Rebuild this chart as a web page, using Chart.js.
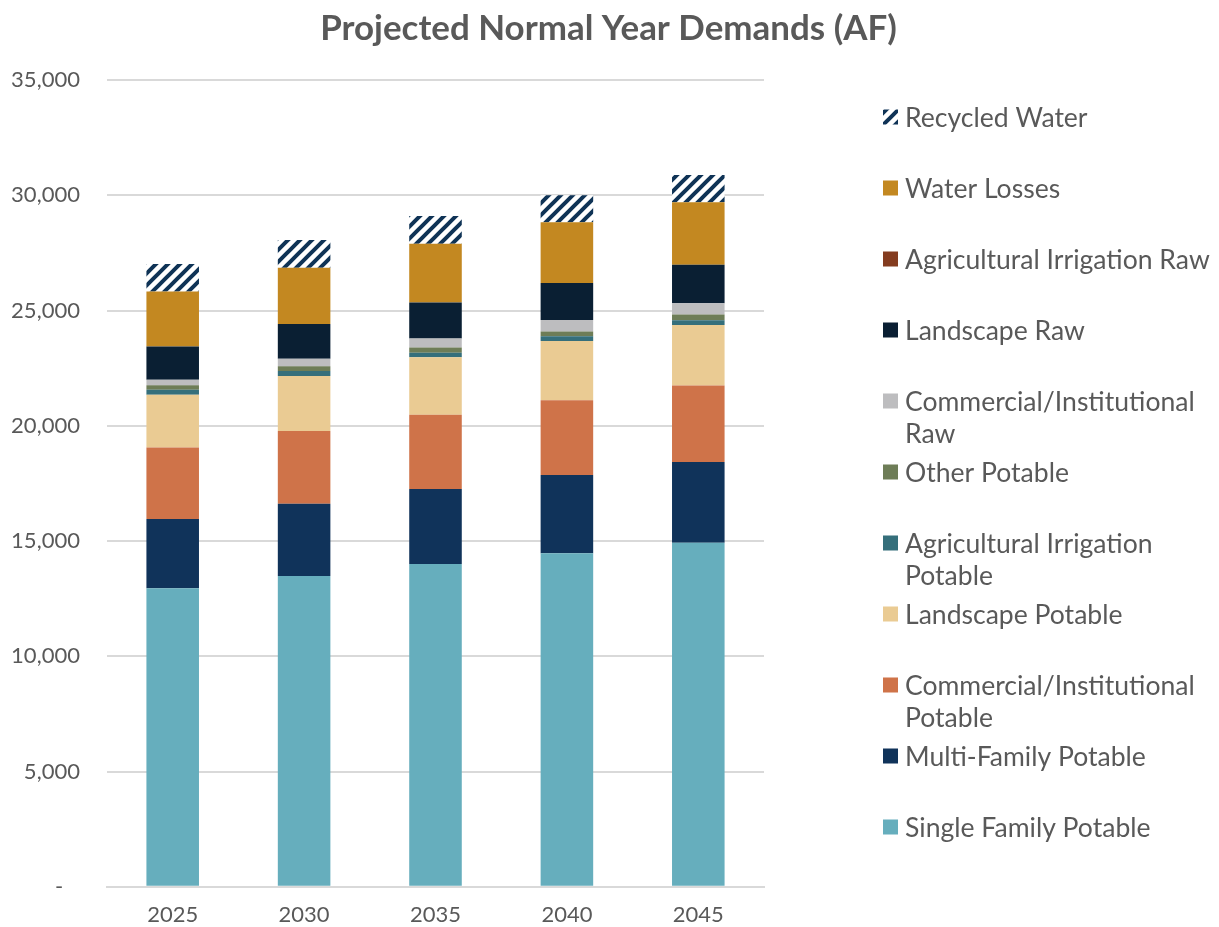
<!DOCTYPE html>
<html>
<head>
<meta charset="utf-8">
<script src="https://cdn.jsdelivr.net/npm/chart.js@4.4.1/dist/chart.umd.min.js"></script>
<style>
  html, body { margin: 0; padding: 0; background: #fff; }
  #wrap { width: 1219px; height: 927px; position: relative; }
</style>
</head>
<body>
<div id="wrap"><canvas id="grafica"></canvas></div>
<script>
// Datos (AF)
const years = ["2025", "2030", "2035", "2040", "2045"];
const singleFamily      = [12950, 13480, 14000, 14470, 14920];
const multiFamily       = [3010, 3140, 3260, 3390, 3510];
const commercialPotable = [3100, 3150, 3220, 3250, 3320];
const landscapePotable  = [2280, 2390, 2490, 2570, 2620];
const agPotable         = [220, 220, 200, 200, 210];
const otherPotable      = [200, 200, 230, 210, 250];
const commercialRaw     = [240, 330, 390, 500, 490];
const landscapeRaw      = [1440, 1500, 1560, 1600, 1670];
const agRaw             = [0, 0, 0, 0, 0];
const waterLosses       = [2380, 2450, 2550, 2640, 2710];
const recycled          = [1200, 1200, 1200, 1170, 1180];
const yMax = 35000;
const yStep = 5000;

const FONT = "Lato";
const TEXT = "#595959";

// tamaños de letra ajustados al ancho del texto de la imagen
const mctx = document.createElement("canvas").getContext("2d");
function fitSize(text, weight, target) {
  mctx.font = weight + " 100px " + FONT;
  return 100 * target / mctx.measureText(text).width;
}
const titleSize  = fitSize("Projected Normal Year Demands (AF)", "bold", 577);
const legendSize = fitSize("Agricultural Irrigation Raw", "normal", 305);
const yTickSize  = fitSize("35,000", "normal", 69);
const xTickSize  = fitSize("2025", "normal", 51);

// Patrón rayado para el agua reciclada
function hatch() {
  const c = document.createElement("canvas");
  c.width = 12; c.height = 12;
  const g = c.getContext("2d");
  g.fillStyle = "#ffffff";
  g.fillRect(0, 0, 12, 12);
  g.strokeStyle = "#0f3356";
  g.lineWidth = 4;
  g.beginPath();
  g.moveTo(-6, 6); g.lineTo(6, -6);
  g.moveTo(0, 12); g.lineTo(12, 0);
  g.moveTo(6, 18); g.lineTo(18, 6);
  g.stroke();
  return g.createPattern(c, "repeat");
}

const series = [
  { label: "Single Family Potable", data: singleFamily, backgroundColor: "#66aebd" },
  { label: "Multi-Family Potable", data: multiFamily, backgroundColor: "#10335a" },
  { label: "Commercial/Institutional Potable", data: commercialPotable, backgroundColor: "#cf7349" },
  { label: "Landscape Potable", data: landscapePotable, backgroundColor: "#eacb93" },
  { label: "Agricultural Irrigation Potable", data: agPotable, backgroundColor: "#356f7b" },
  { label: "Other Potable", data: otherPotable, backgroundColor: "#6e7d57" },
  { label: "Commercial/Institutional Raw", data: commercialRaw, backgroundColor: "#bdbdbf" },
  { label: "Landscape Raw", data: landscapeRaw, backgroundColor: "#0a1f33" },
  { label: "Agricultural Irrigation Raw", data: agRaw, backgroundColor: "#843c1f" },
  { label: "Water Losses", data: waterLosses, backgroundColor: "#c38821" },
  { label: "Recycled Water", data: recycled, backgroundColor: hatch() },
];

function wrap(ctx, text, maxW) {
  const words = text.split(" ");
  const lines = [];
  let cur = "";
  words.forEach(w => {
    const t = cur ? cur + " " + w : w;
    if (cur && ctx.measureText(t).width > maxW) { lines.push(cur); cur = w; }
    else cur = t;
  });
  lines.push(cur);
  return lines;
}

// Título y leyenda dibujados a mano (estilo Excel)
const extras = {
  id: "extras",
  afterDraw(chart) {
    const ctx = chart.ctx;
    ctx.save();
    ctx.fillStyle = TEXT;
    ctx.textAlign = "center";
    ctx.textBaseline = "middle";
    ctx.font = "bold " + titleSize + "px " + FONT;
    ctx.fillText("Projected Normal Year Demands (AF)", 608.5, 29);

    ctx.font = legendSize + "px " + FONT;
    ctx.textAlign = "left";
    const ds = chart.data.datasets.slice().reverse();
    ds.forEach((d, i) => {
      const y = 117 + 71 * i;
      ctx.fillStyle = d.backgroundColor;
      ctx.fillRect(883, y - 7.5, 15, 15);
      ctx.fillStyle = TEXT;
      const lines = wrap(ctx, d.label, 1219 - 905 - 2);
      lines.forEach((l, k) => ctx.fillText(l, 905, y + 1 + 32 * k));
    });
    ctx.restore();
  }
};

new Chart(document.querySelector("#grafica"), {
  type: "bar",
  data: { labels: years, datasets: series },
  plugins: [extras],
  options: {
    responsive: true,
    maintainAspectRatio: false,
    animation: false,
    layout: { padding: { top: 80, right: 455, left: 0, bottom: 0 } },
    datasets: { bar: { barPercentage: 0.4, categoryPercentage: 1.0, borderWidth: 0 } },
    plugins: { legend: { display: false }, title: { display: false }, tooltip: { enabled: false } },
    scales: {
      x: {
        stacked: true,
        grid: { display: false, drawTicks: false },
        border: { display: true, color: "#d9d9d9", width: 2 },
        ticks: { color: TEXT, font: { family: FONT, size: xTickSize }, padding: 15 },
        afterFit(s) { s.height = 39; }
      },
      y: {
        stacked: true,
        min: 0, max: yMax,
        grid: { color: "#d9d9d9", lineWidth: 2, drawTicks: false },
        border: { display: false },
        ticks: {
          stepSize: yStep,
          color: TEXT,
          padding: 27,
          font: { family: FONT, size: yTickSize },
          callback: v => v === 0 ? "-   " : v.toLocaleString("en-US")
        },
        afterFit(s) { s.width = 107; }
      }
    }
  }
});
</script>
</body>
</html>
